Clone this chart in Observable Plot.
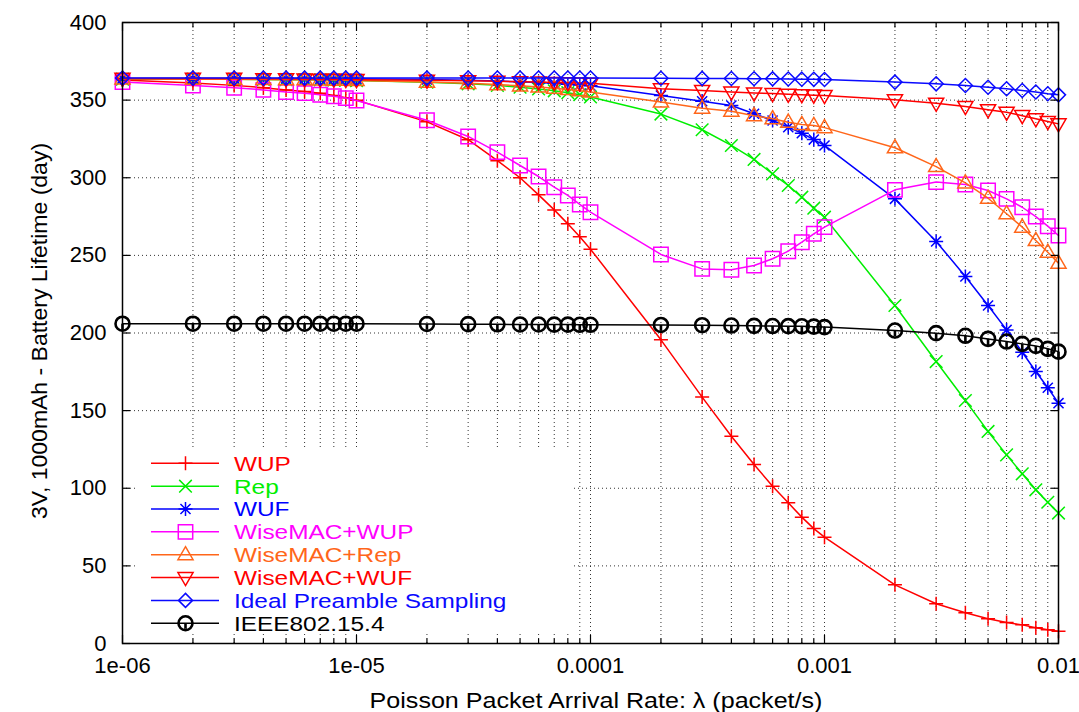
<!DOCTYPE html>
<html><head><meta charset="utf-8">
<script src="https://cdn.jsdelivr.net/npm/d3@7"></script>
<script src="https://cdn.jsdelivr.net/npm/@observablehq/plot@0.6"></script>
<style>html,body{margin:0;padding:0;background:#fff;} #chart svg{display:block;}</style>
</head><body><div id="chart"></div>
<script>
// ---- data ----
const lambda = [1e-6,2e-6,3e-6,4e-6,5e-6,6e-6,7e-6,8e-6,9e-6,1e-5,
  2e-5,3e-5,4e-5,5e-5,6e-5,7e-5,8e-5,9e-5,1e-4,
  2e-4,3e-4,4e-4,5e-4,6e-4,7e-4,8e-4,9e-4,1e-3,
  2e-3,3e-3,4e-3,5e-3,6e-3,7e-3,8e-3,9e-3,1e-2];

const seriesNames = ["WUP","Rep","WUF","WiseMAC+WUP","WiseMAC+Rep","WiseMAC+WUF","Ideal Preamble Sampling","IEEE802.15.4"];
const seriesColors = ["#ff0000","#00ee00","#0000ff","#ff00ff","#ff661a","#ff0000","#0a0aff","#000000"];

const wup = [363,361,359.5,358,356.5,355.5,354.5,353,351.5,350,
  336,324.5,311,300,289,279.3,270.3,262,254,
  195.6,158.7,133.5,115.3,101.3,90.6,81.4,74,68.5,
  37.8,25.6,19.8,15.9,13.5,12,10.2,8.9,7.9];
const rep = [363.5,363.5,363.4,363.3,363.2,363.1,363,362.9,362.8,362.6,
  361.5,360.5,359.5,358.3,357.2,356,354.8,353.5,352,
  341,330.9,320.8,311.8,302.5,295,287.5,280.4,274.6,
  217.7,181.6,156.5,136.6,121.5,109.3,99,91,84];
const wuf = [364,364,364,363.9,363.9,363.9,363.8,363.8,363.8,363.7,
  363.3,362.8,362.3,361.8,361.3,360.8,360.3,359.8,359.3,
  353,349.3,346.5,341.2,336.9,332.6,328.7,324.6,320.8,
  286.4,259,236.4,217.7,202,187.6,175.2,164.7,154.8];
const wiseWup = [361.6,359.4,358,356.6,355.2,354.5,353.5,352.5,351.3,349.8,
  337,326.6,316.5,307.9,300.8,293.9,288.6,282.8,277.8,
  250.6,241.3,240.7,243.5,247.8,252.7,258.5,263.9,268.2,
  292.2,297.2,295.6,291.8,286.4,281,275,268.8,262.8];
const wiseRep = [363.6,363.5,363.4,363.3,363.2,363.1,363,362.9,362.8,362.6,
  361.6,360.8,360,359.2,358.4,357.6,356.8,356,355.2,
  348.8,344.8,342.9,340,338,335.8,334.3,333.7,332.3,
  319.3,307.2,296.7,286.8,276.8,268.2,259.6,252,245];
const wiseWuf = [364,364,364,363.8,363.7,363.6,363.5,363.4,363.3,363.2,
  362.8,362.4,362.1,361.8,361.6,361.4,361.2,361,360.8,
  357.3,356.2,355.2,354.6,354.2,353.8,353.5,353.2,353,
  350.2,348,345.9,343.8,342.2,340,338,336.2,334.7];
const ideal = [364.2,364.2,364.2,364.2,364.2,364.2,364.2,364.2,364.2,364.2,
  364.2,364.2,364.2,364.2,364.2,364.2,364.2,364.2,364.2,
  364.1,364,363.9,363.8,363.7,363.6,363.5,363.4,363.3,
  361.6,360.5,359.4,358.3,357.3,356.2,355.2,354.1,353.4];
const ieee = [206,206,206,206,206,206,206,206,206,206,
  205.8,205.7,205.6,205.5,205.5,205.4,205.4,205.3,205.3,
  205.2,205,204.8,204.6,204.5,204.4,204.3,204.1,203.8,
  201.6,199.9,198.2,196.2,194.5,193,191.7,189.8,188];

const xMajorTicks = [1e-6,1e-5,1e-4,1e-3,1e-2];
const xTickLabels = ["1e-06","1e-05","0.0001","0.001","0.01"];
const xMinorTicks = [2e-6,3e-6,4e-6,5e-6,6e-6,7e-6,8e-6,9e-6,
  2e-5,3e-5,4e-5,5e-5,6e-5,7e-5,8e-5,9e-5,
  2e-4,3e-4,4e-4,5e-4,6e-4,7e-4,8e-4,9e-4,
  2e-3,3e-3,4e-3,5e-3,6e-3,7e-3,8e-3,9e-3];
const yTicks = [0,50,100,150,200,250,300,350,400];
const xTitle = "Poisson Packet Arrival Rate: λ (packet/s)";
const yTitle = "3V, 1000mAh - Battery Lifetime (day)";

// ---- symbols (gnuplot-like point types) ----
const mk = fn => ({draw(c, size){ const R = Math.sqrt(size/Math.PI); fn(c, R); }});
const symPlus = mk((c,R)=>{c.moveTo(-R,0);c.lineTo(R,0);c.moveTo(0,-R);c.lineTo(0,R);});
const symTimes = mk((c,R)=>{const d=R*0.9;c.moveTo(-d,-d);c.lineTo(d,d);c.moveTo(-d,d);c.lineTo(d,-d);});
const symStar = mk((c,R)=>{c.moveTo(-R,0);c.lineTo(R,0);c.moveTo(0,-R);c.lineTo(0,R);const d=R*0.72;c.moveTo(-d,-d);c.lineTo(d,d);c.moveTo(-d,d);c.lineTo(d,-d);});
const symSquare = mk((c,R)=>{const h=R*1.03;c.rect(-h,-h,2*h,2*h);});
const symUp = mk((c,R)=>{c.moveTo(0,-R*1.15);c.lineTo(R*1.08,R*0.72);c.lineTo(-R*1.08,R*0.72);c.closePath();});
const symDown = mk((c,R)=>{c.moveTo(0,R*1.15);c.lineTo(R*1.08,-R*0.72);c.lineTo(-R*1.08,-R*0.72);c.closePath();});
const symDiamond = mk((c,R)=>{c.moveTo(0,-R);c.lineTo(R,0);c.lineTo(0,R);c.lineTo(-R,0);c.closePath();});
const symCircle = mk((c,R)=>{c.moveTo(R,0);c.arc(0,0,R,0,2*Math.PI);c.moveTo(0,0);c.lineTo(0,R*0.8);});
const seriesSymbols = [symPlus,symTimes,symStar,symSquare,symUp,symDown,symDiamond,symCircle];
const seriesMarkerWidth = [1.5,1.5,1.5,1.5,1.5,1.5,1.5,2.6];

const seriesValues = [wup,rep,wuf,wiseWup,wiseRep,wiseWuf,ideal,ieee];
const series = seriesNames.map((name,k)=>({
  name, color: seriesColors[k], symbol: seriesSymbols[k], sw: seriesMarkerWidth[k],
  data: lambda.map((x,i)=>({x, y: seriesValues[k][i]}))
}));

const R = 7;
const tickStyle = {stroke:"#000", strokeWidth:1.2, fill:"none", label:null};
const gridStyle = {stroke:"#000", strokeOpacity:0.8, strokeDasharray:"1,3", strokeWidth:1};

const chart = Plot.plot({
  width: 1079, height: 712,
  marginLeft: 122, marginRight: 21, marginTop: 22, marginBottom: 69,
  style: {fontFamily: "'Liberation Sans', Arial, Helvetica, sans-serif", fontSize: "22px", background: "white", color: "black"},
  x: {type: "log", domain: [1e-6, 1e-2]},
  y: {domain: [0, 400]},
  marks: [
    Plot.gridX([...xMinorTicks, 1e-5, 1e-4, 1e-3], gridStyle),
    Plot.gridY(yTicks.slice(1, -1), gridStyle),
    ...series.flatMap(s => [
      Plot.line(s.data, {x:"x", y:"y", stroke:s.color, strokeWidth:1.5}),
      Plot.dot(s.data, {x:"x", y:"y", symbol:s.symbol, r:R, stroke:s.color, fill:"none", strokeWidth:s.sw})
    ]),
    Plot.frame({stroke:"#000", strokeWidth:1.5}),
    Plot.axisX(xMajorTicks, {anchor:"bottom", tickSize:-8, ...tickStyle}),
    Plot.axisX(xMajorTicks, {anchor:"top", tickSize:-8, ...tickStyle}),
    Plot.axisX(xMinorTicks, {anchor:"bottom", tickSize:-4.5, ...tickStyle}),
    Plot.axisX(xMinorTicks, {anchor:"top", tickSize:-4.5, ...tickStyle}),
    Plot.axisY(yTicks, {anchor:"left", tickSize:-8, ...tickStyle}),
    Plot.axisY(yTicks, {anchor:"right", tickSize:-8, ...tickStyle}),
    Plot.axisX(xMajorTicks, {anchor:"bottom", tickSize:0, tickPadding:14, fontSize:22, label:null,
      tickFormat: d => xTickLabels[xMajorTicks.indexOf(d)]}),
    Plot.axisY(yTicks, {anchor:"left", tickSize:0, tickPadding:16, fontSize:22, label:null, tickFormat: d => String(d)})
  ]
});
document.getElementById("chart").appendChild(chart);

// ---- axis titles and legend ----
const svg = d3.select(chart);
const font = "'Liberation Sans', Arial, Helvetica, sans-serif";
svg.append("text").attr("transform","translate(596,708) scale(1.14,1)")
  .attr("text-anchor","middle").style("font-family",font).style("font-size","22px").attr("fill","#000").text(xTitle);
svg.append("text").attr("transform","translate(47,331) rotate(-90) scale(1.07,1)")
  .attr("text-anchor","middle").style("font-family",font).style("font-size","21.5px").attr("fill","#000").text(yTitle);

const lg = svg.append("g");
lg.append("rect").attr("x",135).attr("y",447).attr("width",438).attr("height",187).attr("fill","white");
series.forEach((s,i)=>{
  const y = 463.3 + i*22.85;
  lg.append("line").attr("x1",151).attr("x2",219).attr("y1",y).attr("y2",y).attr("stroke",s.color).attr("stroke-width",1.5);
  lg.append("path").attr("transform",`translate(185.5,${y})`)
    .attr("d", d3.symbol().type(s.symbol).size(Math.PI*R*R)())
    .attr("fill","none").attr("stroke",s.color).attr("stroke-width",s.sw);
  lg.append("text").attr("transform",`translate(234,${y}) scale(1.19,1)`).attr("dy","0.36em")
    .attr("text-anchor","start").style("font-family",font).style("font-size","20.5px").attr("fill",s.color).text(s.name);
});
</script>
</body></html>
